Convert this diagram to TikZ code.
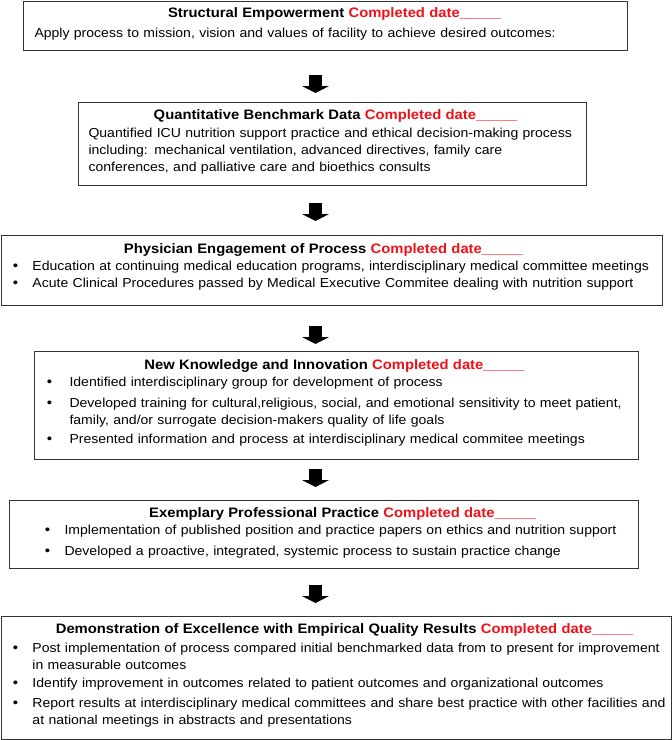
\documentclass[tikz,border=0pt]{standalone}
\usepackage{fontspec}
\setmainfont{Liberation Sans}[FakeStretch=1.08]
\usetikzlibrary{arrows.meta}
\definecolor{datered}{RGB}{240,16,24}
\newcommand\bxtitle[2]{\hspace*{#1pt}\makebox[0pt][c]{\fontsize{13.7}{17}\selectfont\bfseries #2 \textcolor{datered}{Completed date\_\_\_\_\_}}\par}
\newcommand\bxline[2]{\hspace*{#1pt}#2\par}
\newcommand\bxitem[3]{\hangindent=#2pt\hangafter=1\noindent\makebox[#2pt][l]{\hspace*{\dimexpr#1pt-2.6pt\relax}{\fontsize{14}{17}\selectfont\textbullet}}#3\par}
\tikzset{
  box/.style={draw=black!80, line width=1pt, fill=white, rectangle, inner sep=0pt,
    anchor=north west, align=left, font=\fontsize{13}{17}\selectfont},
  flow/.style={draw=black, line width=13pt, -{Triangle[width=27pt,length=7pt]}}
}
\begin{document}
\begin{tikzpicture}[x=1pt,y=-1pt]
\useasboundingbox (0,0) rectangle (672,740);
\coordinate (ax) at (315.5,0);

\node[box, text width=604pt, text height=16pt, text depth=33pt] (b1) at (23,1) {%
\bxtitle{311}{Structural Empowerment}\vspace{3pt}%
\bxline{11}{Apply process to mission, vision and values of facility to achieve desired outcomes:}};

\node[box, text width=508pt, text height=17pt, text depth=66pt] (b2) at (78,102) {%
\bxtitle{257}{Quantitative Benchmark Data}\vspace{1pt}%
\hangindent=10pt\hangafter=0\noindent Quantified ICU nutrition support practice and ethical decision-making process\hfil\break
including: mechanical ventilation, advanced directives, family care\hfil\break
conferences, and palliative care and bioethics consults\par};

\node[box, text width=661pt, text height=18pt, text depth=52pt] (b3) at (1,235) {%
\bxtitle{322}{Physician Engagement of Process}%
\bxitem{14}{31}{Education at continuing medical education programs, interdisciplinary medical committee meetings}%
\bxitem{14}{31}{Acute Clinical Procedures passed by Medical Executive Commitee dealing with nutrition support}};

\node[box, text width=604pt, text height=18pt, text depth=90pt] (b4) at (34,351) {%
\bxtitle{300}{New Knowledge and Innovation}%
\bxitem{15}{35}{Identified interdisciplinary group for development of process}\vspace{4pt}%
\bxitem{15}{35}{Developed training for cultural,religious, social, and emotional sensitivity to meet patient,\hfil\break family, and/or surrogate decision-makers quality of life goals}\vspace{2pt}%
\bxitem{15}{35}{Presented information and process at interdisciplinary medical commitee meetings}};

\node[box, text width=629pt, text height=17pt, text depth=51pt] (b5) at (9,500) {%
\bxtitle{333}{Exemplary Professional Practice}%
\bxitem{38}{55}{Implementation of published position and practice papers on ethics and nutrition support}\vspace{4pt}%
\bxitem{38}{55}{Developed a proactive, integrated, systemic process to sustain practice change}};

\node[box, text width=670pt, text height=17pt, text depth=106pt] (b6) at (1,616) {%
\bxtitle{343}{Demonstration of Excellence with Empirical Quality Results}\vspace{2pt}%
\bxitem{14}{31}{Post implementation of process compared initial benchmarked data from to present for improvement\hfil\break in measurable outcomes}\vspace{1pt}%
\bxitem{14}{31}{Identify improvement in outcomes related to patient outcomes and organizational outcomes}\vspace{3pt}%
\bxitem{14}{31}{Report results at interdisciplinary medical committees and share best practice with other facilities and\hfil\break at national meetings in abstracts and presentations}};

\draw[flow, shorten <=24pt, shorten >=9pt] (b1.south -| ax) -- (b2.north -| ax);
\draw[flow, shorten <=17pt, shorten >=14pt] (b2.south -| ax) -- (b3.north -| ax);
\draw[flow, shorten <=20pt, shorten >=7pt] (b3.south -| ax) -- (b4.north -| ax);
\draw[flow, shorten <=9pt, shorten >=13pt] (b4.south -| ax) -- (b5.north -| ax);
\draw[flow, shorten <=16pt, shorten >=13pt] (b5.south -| ax) -- (b6.north -| ax);
\end{tikzpicture}
\end{document}
